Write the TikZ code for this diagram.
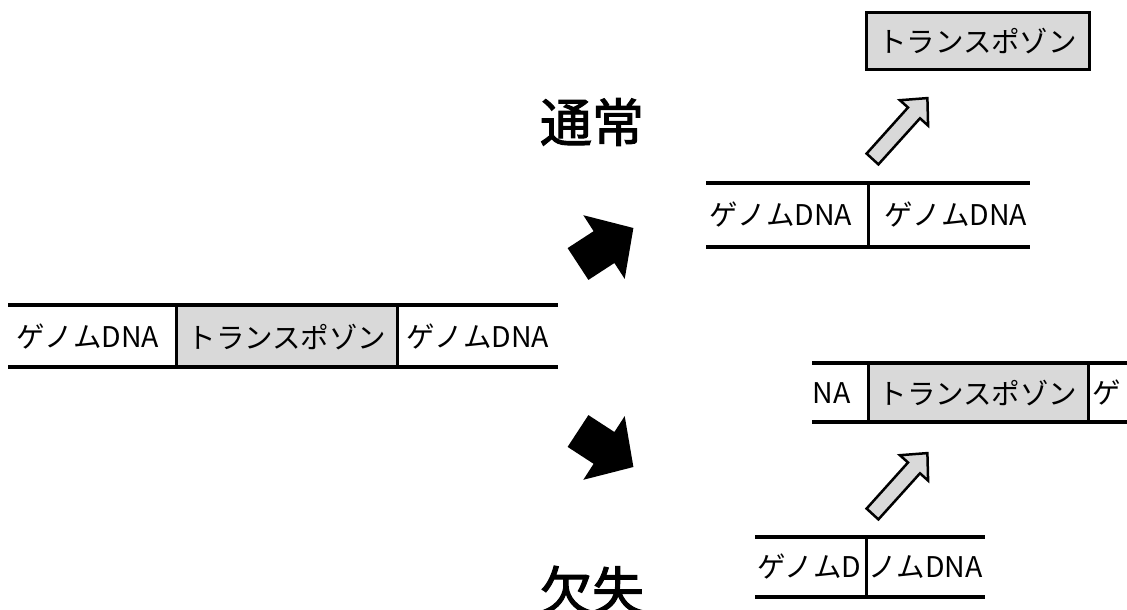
\documentclass[tikz,border=0pt]{standalone}
\usepackage{fontspec}
\setmainfont{Liberation Sans}
\newfontfamily\jp{Noto Sans CJK JP}
\newfontfamily\jpmid[FakeBold=2]{Noto Sans CJK JP}
\definecolor{boxgray}{HTML}{D9D9D9}
\begin{document}
\begin{tikzpicture}[x=1pt,y=-1pt,
  strand/.style={line width=3.5pt},
  divider/.style={line width=3pt},
  tbox/.style={draw, line width=3pt, fill=boxgray, inner sep=0pt, font=\jp\fontsize{28.5}{32}\selectfont},
  lbl/.style={font=\jp\fontsize{28.5}{32}\selectfont, inner sep=0pt},
  big/.style={font=\jpmid\fontsize{52}{58}\selectfont, inner sep=0pt},
  fatarrow/.style={fill=black},
  hollow/.style={draw, line width=2.5pt, fill=boxgray, line join=miter}]
\useasboundingbox (0,0) rectangle (1127,610);
\clip (0,0) rectangle (1127,610);

% main strand
\fill[boxgray] (176,305) rectangle (397,367);
\draw[strand] (8,305) -- (558,305);
\draw[strand] (8,367) -- (558,367);
\draw[divider] (176,305) -- (176,367);
\draw[divider] (397,305) -- (397,367);
\node[lbl] (m1) at (88,337) {ゲノムDNA};
\node[lbl] (m2) at (287,337) {トランスポゾン};
\node[lbl] (m3) at (478,337) {ゲノムDNA};

% labels
\node[big] (normal) at (592,122) {通常};
\node[big] (del) at (592,590) {欠失};

% fat arrows
\fill[fatarrow] (567.6,248.1) -- (593.6,231.2) -- (583.3,215.2) -- (633.4,228) -- (624.7,278.9) -- (614.4,263) -- (588.4,279.9) -- cycle;
\fill[fatarrow] (567.6,446.9) -- (593.6,463.8) -- (583.3,479.8) -- (633.4,467) -- (624.7,416.1) -- (614.4,432) -- (588.4,415.1) -- cycle;

% top right strand
\draw[strand] (706,183) -- (1030,183);
\draw[strand] (706,247) -- (1030,247);
\draw[divider] (868,183) -- (868,247);
\node[lbl] (t1) at (781,215) {ゲノムDNA};
\node[lbl] (t2) at (956,215) {ゲノムDNA};

% excised transposon
\node[tbox, minimum width=223pt, minimum height=57pt] (tp) at (977.5,41.5) {トランスポゾン};

% hollow arrows
\foreach \dy in {0,355}{
  \begin{scope}[yshift=-\dy pt]
  \draw[hollow] (866.6,153.6) -- (908,107.5) -- (899.9,100.2) -- (927.4,98.1) -- (928.1,125.6) -- (920,118.3) -- (878.4,164.4) -- cycle;
  \end{scope}
}

% lower transposon strand (remains)
\fill[boxgray] (868,363) rectangle (1088,422);
\begin{scope}
  \clip (814,340) rectangle (868,440);
  \node[lbl, anchor=east] (r1) at (851,393) {ゲノムDNA};
\end{scope}
\node[lbl] (r2) at (978,393) {トランスポゾン};
\begin{scope}
  \clip (1088,340) rectangle (1121,440);
  \node[lbl, anchor=west] (r3) at (1092,393) {ゲノムDNA};
\end{scope}
\draw[strand] (812,363) -- (1127,363);
\draw[strand] (812,422) -- (1127,422);
\draw[divider] (868,363) -- (868,422);
\draw[divider] (1088,363) -- (1088,422);

% bottom strand (deletion)
\begin{scope}
  \clip (750,520) rectangle (861,610);
  \node[lbl, anchor=west] (b1) at (757,567) {ゲノムDNA};
\end{scope}
\begin{scope}
  \clip (866,520) rectangle (1000,610);
  \node[lbl, anchor=east] (b2) at (983,567) {ゲノムDNA};
\end{scope}
\draw[strand] (755,537) -- (985,537);
\draw[strand] (755,597) -- (985,597);
\draw[divider] (866,537) -- (866,597);
\end{tikzpicture}
\end{document}
